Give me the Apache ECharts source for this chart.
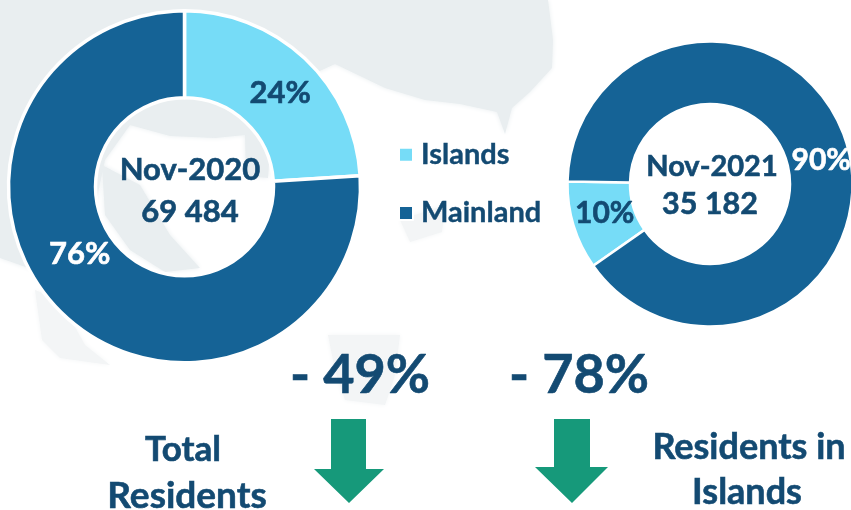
<!DOCTYPE html>
<html>
	<head>
		<meta charset="utf-8">
		<title></title>
		<script type="text/javascript" src="https://cdn.jsdelivr.net/npm/echarts@6/dist/echarts.min.js"></script>
		<style>
			html, body { margin: 0; padding: 0; background: #fff; }
			#chart { width: 851px; height: 510px; }
		</style>
	</head>
	<body>
		<div id="chart"></div>
		<script type="text/javascript">
			var categories = ['Islands', 'Mainland'];
			var values2020 = [24, 76];
			var values2021 = [10, 90];
			var center2020 = ['Nov-2020', '69 484'];
			var center2021 = ['Nov-2021', '35 182'];
			var changes = ['- 49%', '- 78%'];

			var navy = '#134a72';
			var green = '#16997a';
			var map = '#e9eef0';
			var mapLight = '#f3f5f6';

			// label nudges, the library places them mid ring
			var nudge2020 = [[3, 5], [-12, -32]];
			var nudge2021 = [[4, -4], [2, 10]];

			function pieData(values) {
				return values.map(function(v, i) {
					var c = i === 0 ? navy : '#fff';
					return {
						name: categories[i],
						value: v,
						label: { color: c, textBorderColor: c, textBorderWidth: 0.6 }
					};
				});
			}

			function bold(text, x, y, size) {
				return {
					type: 'text',
					x: x,
					y: y,
					style: {
						text: text,
						fill: navy,
						stroke: navy,
						lineWidth: 0.6,
						font: 'bold ' + size + 'px Lato',
						align: 'center',
						verticalAlign: 'middle'
					}
				};
			}

			function shape(points, fill) {
				return {
					type: 'polygon',
					silent: true,
					z: -1,
					shape: { points: points },
					style: { fill: fill, shadowBlur: 5, shadowColor: fill }
				};
			}

			function arrow(left, right, headLeft, headRight, tip, top, base, bottom) {
				return {
					type: 'polygon',
					shape: {
						points: [[left, top], [right, top], [right, base], [headRight, base], [tip, bottom], [headLeft, base], [left, base]]
					},
					style: { fill: green }
				};
			}

			var myChart = echarts.init(document.getElementById('chart'));
			var option = {
				animation: false,
				color: ['#76dcf7', '#156396'],
				legend: {
					data: categories,
					orient: 'vertical',
					left: 393,
					top: 135,
					itemWidth: 14,
					itemHeight: 14,
					itemGap: 29,
					icon: 'rect',
					textStyle: {
						color: navy,
						fontFamily: 'Lato',
						fontWeight: 'bold',
						fontSize: 29,
						padding: [0, 0, 4, 3],
						textBorderColor: navy,
						textBorderWidth: 0.4
					}
				},
				series: [{
					type: 'pie',
					center: [184.5, 186.8],
					radius: [89, 176],
					startAngle: 90,
					itemStyle: { borderColor: '#fff', borderWidth: 3.5 },
					label: { position: 'inside', formatter: '{d}%', fontFamily: 'Lato', fontWeight: 'bold', fontSize: 31 },
					labelLine: { show: false },
					labelLayout: function(p) { return { dx: nudge2020[p.dataIndex][0], dy: nudge2020[p.dataIndex][1] }; },
					data: pieData(values2020)
				}, {
					type: 'pie',
					center: [710, 184],
					radius: [80, 142.5],
					startAngle: 215,
					itemStyle: { borderColor: '#fff', borderWidth: 2.5 },
					label: { position: 'inside', formatter: '{d}%', fontFamily: 'Lato', fontWeight: 'bold', fontSize: 30 },
					labelLine: { show: false },
					labelLayout: function(p) { return { dx: nudge2021[p.dataIndex][0], dy: nudge2021[p.dataIndex][1] }; },
					data: pieData(values2021)
				}],
				graphic: [
					// faint map behind the chart
					shape([[0, 0], [548, 0], [553, 40], [552, 68], [530, 92], [512, 108], [505, 134], [497, 112], [460, 104], [425, 100], [385, 88], [335, 64], [300, 80], [272, 120], [268, 178], [246, 176], [245, 135], [215, 138], [170, 136], [130, 125], [105, 160], [90, 230], [60, 262], [40, 272], [0, 258]], map),
					shape([[102, 165], [140, 185], [170, 235], [200, 268], [165, 272], [130, 250], [105, 215]], map),
					shape([[35, 290], [60, 300], [85, 345], [110, 365], [60, 358], [42, 340]], mapLight),
					shape([[328, 335], [400, 335], [395, 375], [385, 405], [345, 400], [335, 370]], mapLight),
					shape([[400, 220], [445, 205], [442, 232], [410, 242]], mapLight),
					bold(center2020[0], 190, 170, 31),
					bold(center2020[1], 190, 212, 31),
					bold(center2021[0], 712, 167, 29),
					bold(center2021[1], 710, 204, 30.5),
					bold(changes[0], 360, 376, 54),
					bold(changes[1], 579, 376, 54),
					bold('Total', 183, 450, 35),
					bold('Residents', 187, 496, 37),
					bold('Residents in', 749, 447, 36),
					bold('Islands', 747, 492, 36),
					arrow(331, 366, 314, 384, 349, 419, 469, 503),
					arrow(554, 590, 535, 608, 572, 419, 467, 503)
				]
			};
			myChart.setOption(option);
		</script>
	</body>
</html>
